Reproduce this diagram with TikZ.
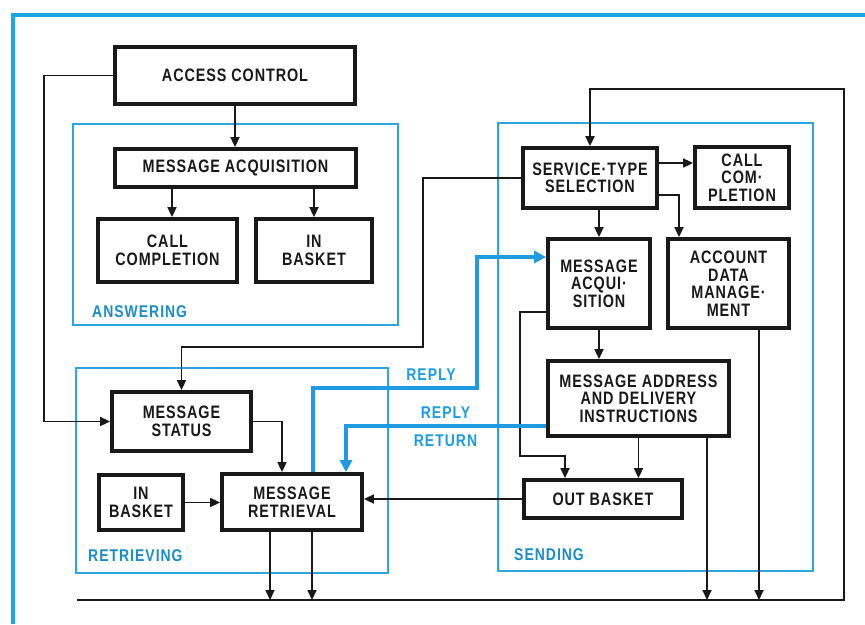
\documentclass[tikz,border=0pt]{standalone}
\usepackage{fontspec}
\setmainfont{Liberation Sans}[FakeStretch=0.8, LetterSpace=5]
\newfontfamily\lblfam{Liberation Sans}[FakeStretch=0.82, LetterSpace=6]
\usetikzlibrary{arrows.meta}
\definecolor{frameblue}{RGB}{28,168,228}
\definecolor{grpblue}{RGB}{45,165,225}
\definecolor{replyblue}{RGB}{30,155,225}
\definecolor{lblblue}{RGB}{28,140,200}
\definecolor{ink}{RGB}{25,25,25}
\newcommand{\boxfont}{\bfseries\fontsize{18}{17.5}\selectfont}
\newcommand{\lblfont}{\lblfam\bfseries\fontsize{17}{17}\selectfont}
\begin{document}
\begin{tikzpicture}[x=1pt,y=-1pt,
  box/.style={draw=ink, line width=3.8pt, align=center, inner sep=0pt, font=\boxfont, text=ink},
  conn/.style={draw=ink, line width=1.7pt},
  arr/.style={conn, -{Triangle[length=10pt,width=9pt]}},
  barr/.style={draw=replyblue, line width=3.8pt, -{Triangle[length=12pt,width=12pt]}},
  grp/.style={draw=grpblue, line width=2.2pt},
  grplbl/.style={font=\lblfont, text=lblblue, anchor=west, inner sep=0pt},
  rlbl/.style={font=\lblfont, text=replyblue, inner sep=0pt},
]
\useasboundingbox (0,0) rectangle (865,624);
\fill[white] (0,0) rectangle (865,624);

% outer frame
\draw[frameblue, line width=4pt] (13,624) -- (13,15) -- (865,15);

% groups
\draw[grp] (73,124) rectangle (398,325);
\draw[grp] (76,368) rectangle (388,573);
\draw[grp] (498,123) rectangle (813,571);
\node[grplbl] (lans) at (92,311.5) {ANSWERING};
\node[grplbl] (lret) at (88,556) {RETRIEVING};
\node[grplbl] (lsend) at (514,554.5) {SENDING};

% boxes
\node[box, minimum width=240pt, minimum height=57pt] (ac) at (235,75.5) {ACCESS CONTROL};
\node[box, minimum width=241pt, minimum height=38pt] (ma1) at (235.5,168) {MESSAGE ACQUISITION};
\node[box, minimum width=139pt, minimum height=63pt] (cc1) at (167.5,250.5) {CALL\\COMPLETION};
\node[box, minimum width=116pt, minimum height=63pt] (ib1) at (314,250.5) {IN\\BASKET};
\node[box, minimum width=139pt, minimum height=59pt] (ms) at (181.5,421.5) {MESSAGE\\STATUS};
\node[box, minimum width=84pt, minimum height=55pt] (ib2) at (141,502.5) {IN\\BASKET};
\node[box, minimum width=140pt, minimum height=56pt] (mr) at (292,502) {MESSAGE\\RETRIEVAL};
\node[box, minimum width=134pt, minimum height=60pt] (st) at (590,178) {SERVICE·TYPE\\SELECTION};
\node[box, minimum width=94pt, minimum height=61pt] (cc2) at (742,177.5) {CALL\\COM·\\PLETION};
\node[box, minimum width=102pt, minimum height=89pt] (ma2) at (599,283.5) {MESSAGE\\ACQUI·\\SITION};
\node[box, minimum width=121pt, minimum height=89pt] (ad) at (728.5,283.5) {ACCOUNT\\DATA\\MANAGE·\\MENT};
\node[box, minimum width=181pt, minimum height=75pt] (mad) at (638.5,398.5) {MESSAGE ADDRESS\\AND DELIVERY\\INSTRUCTIONS};
\node[box, minimum width=158pt, minimum height=38pt] (ob) at (603,499) {OUT BASKET};

% coordinates
\coordinate (k0) at (44,400);
\coordinate (k1) at (423,347);
\coordinate (k2) at (520,456);
\coordinate (k3) at (477,388);
\coordinate (busL) at (77,600);
\coordinate (busR) at (844,600);
\coordinate (loopT) at (844,89);
\coordinate (a1) at ([xshift=4.5pt]cc1.north);

% black connectors
\draw[arr] (ac.west) -| (k0) |- (ms.west);
\draw[arr] (ac.south) -- (ac.south |- ma1.north);
\draw[arr] (ma1.south -| a1) -- (a1);
\draw[arr] (ma1.south -| ib1.north) -- (ib1.north);
\draw[arr, line width=2pt] (busL) -- (busR) -- (loopT) -| (st.north);
\draw[arr] ([yshift=15pt]st.east) coordinate (s1) -- (s1 -| cc2.west);
\draw[arr] ([yshift=-17pt]st.east) -| ([xshift=-49.5pt]ad.north);
\draw[arr] (st.south -| ma2.north) -- (ma2.north);
\draw[arr] (st.west) -| (k1) -| (ms.north);
\draw[arr] (ms.east) -| ([xshift=-10pt]mr.north);
\draw[arr] (ib2.east) -- (ib2.east -| mr.west);
\draw[arr] (ob.west) -- (ob.west -| mr.east);
\draw[arr] ([xshift=-22pt]mr.south) coordinate (r1) -- (r1 |- busL);
\draw[arr] ([xshift=20pt]mr.south) coordinate (r2) -- (r2 |- busL);
\draw[arr] (mad.south) -- (mad.south |- ob.north);
\draw[arr] ([xshift=68.5pt]mad.south) coordinate (d1) -- (d1 |- busL);
\draw[arr] ([xshift=30.5pt]ad.south) coordinate (d2) -- (d2 |- busL);
\draw[arr] ([yshift=-28.5pt]ma2.west) -| (k2) -| ([xshift=-38pt]ob.north);
\draw[arr] (ma2.south) -- (ma2.south |- mad.north);

% blue reply connectors
\draw[barr] ([xshift=21pt]mr.north) |- (k3) |- ([yshift=26.5pt]ma2.west);
\draw[barr] ([yshift=-27.5pt]mad.west) -| ([xshift=54pt]mr.north);
\node[rlbl] (rp1) at (431,374.5) {REPLY};
\node[rlbl] (rp2) at (445.5,413) {REPLY};
\node[rlbl] (rt) at (445.5,440.5) {RETURN};
\end{tikzpicture}
\end{document}
